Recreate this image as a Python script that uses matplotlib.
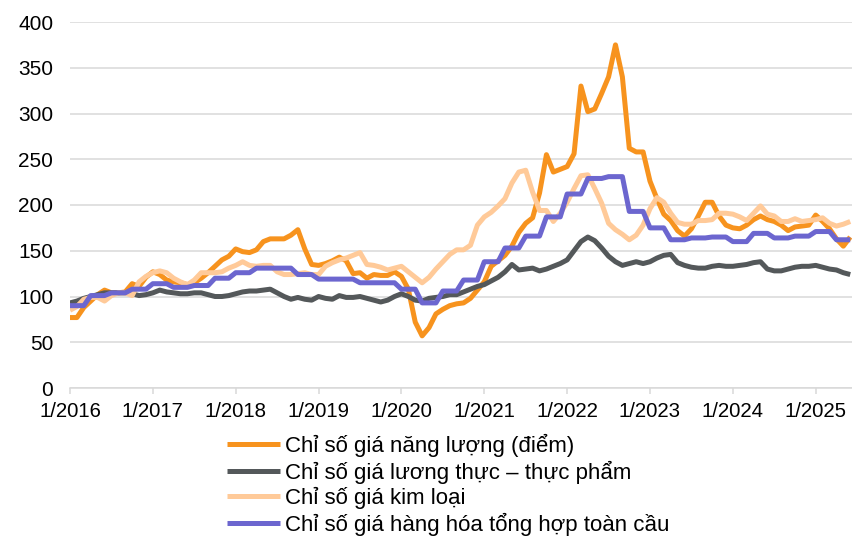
import numpy as np
import matplotlib
matplotlib.use("Agg")
import matplotlib.pyplot as plt

plt.rcParams['font.family'] = ['Liberation Sans', 'DejaVu Sans']

# monthly index values, 1/2016 .. 6/2025
nang_luong = [77, 77, 88, 95, 102, 107, 104, 104, 105, 114, 111, 121,
              127, 124, 118, 116, 115, 113, 115, 120, 126, 133, 140, 144,
              152, 149, 148, 151, 160, 163, 163, 163, 167, 173, 152, 135,
              134, 136, 139, 143, 139, 125, 126, 120, 124, 123, 123, 127,
              122, 108, 72, 57, 66, 81, 86, 90, 92, 93, 98, 107,
              116, 133, 139, 145, 155, 170, 180, 186, 213, 255, 236, 239,
              242, 256, 330, 302, 305, 322, 340, 375, 340, 262, 258, 258,
              226, 207, 190, 183, 172, 166, 174, 188, 203, 203, 188, 178,
              175, 174, 178, 184, 188, 184, 182, 178, 172, 176, 177, 178,
              189, 182, 174, 163, 155, 165]

luong_thuc = [93, 95, 98, 100, 102, 104, 104, 104, 104, 103, 101, 102,
              104, 107, 105, 104, 103, 103, 104, 104, 102, 100, 100, 101,
              103, 105, 106, 106, 107, 108, 104, 100, 97, 99, 97, 96,
              100, 98, 97, 101, 99, 99, 100, 98, 96, 94, 96, 100,
              103, 100, 96, 95, 98, 99, 100, 102, 102, 105, 108, 111,
              113, 117, 121, 127, 135, 129, 130, 131, 128, 130, 133, 136,
              140, 150, 160, 165, 161, 153, 144, 138, 134, 136, 138, 136,
              138, 142, 145, 146, 137, 134, 132, 131, 131, 133, 134, 133,
              133, 134, 135, 137, 138, 130, 128, 128, 130, 132, 133, 133,
              134, 132, 130, 129, 126, 124]

kim_loai = [85, 89, 97, 99, 99, 95, 101, 104, 104, 101, 116, 122,
            126, 128, 126, 120, 116, 113, 118, 126, 126, 126, 127, 131,
            134, 138, 134, 133, 134, 134, 127, 124, 124, 125, 126, 124,
            124, 133, 137, 140, 142, 145, 148, 135, 134, 132, 129, 131,
            133, 127, 121, 115, 121, 130, 138, 146, 151, 151, 156, 178,
            187, 192, 199, 207, 224, 236, 238, 214, 194, 194, 182, 191,
            203, 218, 232, 233, 218, 202, 180, 173, 168, 162, 167, 178,
            196, 208, 203, 191, 181, 179, 179, 183, 183, 184, 191, 191,
            190, 187, 183, 191, 199, 190, 188, 182, 182, 185, 182, 183,
            184, 186, 180, 177, 179, 182]

tong_hop = [90, 90, 90, 101, 101, 101, 104, 104, 104, 108, 108, 108,
            114, 114, 114, 110, 110, 110, 112, 112, 112, 120, 120, 120,
            126, 126, 126, 131, 131, 131, 131, 131, 131, 124, 124, 124,
            119, 119, 119, 119, 119, 119, 115, 115, 115, 115, 115, 115,
            108, 108, 108, 93, 93, 93, 106, 106, 106, 118, 118, 118,
            138, 138, 138, 153, 153, 153, 166, 166, 166, 187, 187, 187,
            212, 212, 212, 229, 229, 229, 231, 231, 231, 193, 193, 193,
            175, 175, 175, 162, 162, 162, 164, 164, 164, 165, 165, 165,
            160, 160, 160, 169, 169, 169, 164, 164, 164, 166, 166, 166,
            171, 171, 171, 162, 162, 162]

nhan = ['Chỉ số giá năng lượng (điểm)',
        'Chỉ số giá lương thực – thực phẩm',
        'Chỉ số giá kim loại',
        'Chỉ số giá hàng hóa tổng hợp toàn cầu']
mau = ['#F7931E', '#54585A', '#FFCA99', '#6C66CF']
nhan_truc_x = ['1/%d' % y for y in range(2016, 2026)]

thang = np.arange(len(nang_luong))

fig = plt.figure(figsize=(8.53, 5.37), dpi=100)
ax = fig.add_axes([70 / 853, 1 - 388 / 537, 783 / 853, 366 / 537])

for du_lieu, ten, c in zip([nang_luong, luong_thuc, kim_loai, tong_hop], nhan, mau):
    ax.plot(thang, du_lieu, color=c, linewidth=3.6, label=ten,
            solid_joinstyle='round', solid_capstyle='butt')

ax.set_ylim(0, 400)
ax.set_yticks(range(0, 401, 50))
ax.set_xlim(0, 113.4)
ax.set_xticks(range(0, 109, 12))
ax.set_xticklabels(nhan_truc_x)

ax.grid(axis='y', color='#D9D9D9', linewidth=1.1)
ax.set_axisbelow(True)
for s in ['top', 'right', 'left']:
    ax.spines[s].set_visible(False)
ax.spines['bottom'].set_color('#D9D9D9')
ax.spines['bottom'].set_linewidth(1.1)
ax.tick_params(axis='y', length=0, pad=12, labelsize=15)
ax.tick_params(axis='x', length=4, color='#D9D9D9', width=1.1, pad=6, labelsize=14.7)

fig.legend(loc='upper left', bbox_to_anchor=(227 / 853, 1 - 434 / 537),
           frameon=False, fontsize=16, handlelength=2.4, handletextpad=0.2,
           labelspacing=0.15, borderpad=0, borderaxespad=0)

plt.savefig('out.png', dpi=100)
